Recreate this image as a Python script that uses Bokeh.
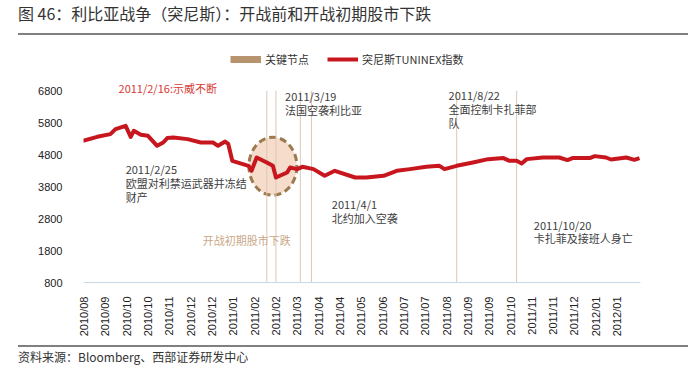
import math
import calendar
from datetime import datetime

from bokeh.plotting import figure
from bokeh.models import (Range1d, FixedTicker, DatetimeTickFormatter, Label,
                          Legend, LegendItem, Div)
from bokeh.layouts import column
from bokeh.embed import file_html
from bokeh.resources import INLINE

# ---------------- data ----------------
dates = ["2010-08-19", "2010-09-02", "2010-09-15", "2010-09-20", "2010-09-30",
         "2010-10-05", "2010-10-08", "2010-10-15", "2010-10-22", "2010-10-31",
         "2010-11-06", "2010-11-10", "2010-11-16", "2010-11-30", "2010-12-13",
         "2010-12-25", "2010-12-30", "2011-01-06", "2011-01-09", "2011-01-13",
         "2011-01-29", "2011-02-01", "2011-02-06", "2011-02-16", "2011-02-22",
         "2011-02-25", "2011-03-08", "2011-03-11", "2011-03-18", "2011-03-23",
         "2011-04-03", "2011-04-14", "2011-04-24", "2011-05-14", "2011-05-25",
         "2011-06-11", "2011-06-24", "2011-07-07", "2011-07-23", "2011-08-05",
         "2011-08-10", "2011-08-22", "2011-09-07", "2011-09-22", "2011-10-07",
         "2011-10-13", "2011-10-20", "2011-10-25", "2011-10-30", "2011-11-15",
         "2011-12-01", "2011-12-09", "2011-12-14", "2011-12-31", "2012-01-05",
         "2012-01-16", "2012-01-21", "2012-02-05", "2012-02-13", "2012-02-18"]
tuninex = [5235, 5360, 5445, 5600, 5705,
           5360, 5548, 5423, 5392, 5079,
           5182, 5320, 5339, 5288, 5182,
           5182, 5079, 5213, 5141, 4609,
           4453, 4296, 4713, 4556, 4453,
           4087, 4243, 4400, 4349, 4421,
           4349, 4140, 4296, 4087, 4087,
           4140, 4296, 4349, 4421, 4453,
           4349, 4453, 4556, 4662, 4694,
           4609, 4609, 4525, 4662, 4713,
           4713, 4631, 4694, 4694, 4756,
           4713, 4650, 4713, 4640, 4694]

key_dates = ["2011-02-16", "2011-02-25", "2011-03-21", "2011-04-01",
             "2011-08-22", "2011-10-20"]

highlight_date = ["2011-02-22"]
highlight_value = [4440]

tick_dates = ["2010-08-20", "2010-09-10", "2010-10-01", "2010-10-22",
              "2010-11-12", "2010-12-03", "2010-12-24", "2011-01-14",
              "2011-02-04", "2011-02-25", "2011-03-18", "2011-04-08",
              "2011-04-29", "2011-05-20", "2011-06-10", "2011-07-01",
              "2011-07-22", "2011-08-12", "2011-09-02", "2011-09-23",
              "2011-10-14", "2011-11-04", "2011-11-25", "2011-12-16",
              "2012-01-06", "2012-01-27"]
tick_labels = ["2010/08", "2010/09", "2010/10", "2010/10", "2010/11", "2010/12",
               "2010/12", "2011/01", "2011/02", "2011/02", "2011/03", "2011/04",
               "2011/04", "2011/05", "2011/06", "2011/07", "2011/07", "2011/08",
               "2011/09", "2011/09", "2011/10", "2011/11", "2011/11", "2011/12",
               "2012/01", "2012/01"]
y_ticks = [800, 1800, 2800, 3800, 4800, 5800, 6800]

title_text = "图 46：利比亚战争（突尼斯）：开战前和开战初期股市下跌"
source_text = "资料来源：Bloomberg、西部证券研发中心"
legend_labels = ["关键节点", "突尼斯TUNINEX指数"]


def d(s):
    return datetime.strptime(s, "%Y-%m-%d")


def ms(s):
    return calendar.timegm(d(s).timetuple()) * 1000.0


RED = "#c8161e"
TAN = "#b8946e"
VLINE = "#dcc8b6"
TEXT = "#404040"
CJK = "Noto Sans CJK SC"

# ---------------- figure ----------------
# y range extends above the top tick so the legend and the top note sit in the frame
p = figure(width=688, height=302, x_axis_type="datetime",
           x_range=Range1d(datetime(2010, 8, 19, 12), datetime(2012, 2, 19)),
           y_range=Range1d(800, 8000),
           output_backend="svg", toolbar_location=None,
           min_border_left=83, min_border_right=48,
           min_border_top=12, min_border_bottom=60)
p.outline_line_color = None
p.grid.visible = False
p.background_fill_color = "white"
p.border_fill_color = "white"

# highlight ellipse
p.ellipse(x=[d(s) for s in highlight_date], y=highlight_value,
          width=48, height=58, width_units="screen", height_units="screen",
          fill_color="#f5dccb", line_color="#9c7a4f", line_width=3,
          line_dash="7 4")

# key date lines
kd = [d(s) for s in key_dates]
p.segment(x0=kd, y0=[y_ticks[0]] * len(kd), x1=kd, y1=[y_ticks[-1]] * len(kd),
          line_color=VLINE, line_width=1)

# legend proxy for the key dates: a single-point line draws nothing on the plot
key_r = p.line(x=kd[:1], y=y_ticks[-1:], line_color=TAN, line_width=7)
main_r = p.line(x=[d(s) for s in dates], y=tuninex, line_color=RED,
                line_width=4, line_join="round")

# axes
xticks = [ms(s) for s in tick_dates]
p.xaxis.ticker = FixedTicker(ticks=xticks)
fmt = "%Y/%m"
p.xaxis.formatter = DatetimeTickFormatter(
    milliseconds=fmt, seconds=fmt, minsec=fmt, minutes=fmt, hourmin=fmt,
    hours=fmt, days=fmt, months=fmt, years=fmt)
p.xaxis.major_label_overrides = {t: l for t, l in zip(xticks, tick_labels)}
p.xaxis.major_label_orientation = math.pi / 2
p.xaxis.axis_line_color = "#c9d7e6"
p.xaxis.axis_line_width = 1
p.xaxis.major_tick_line_color = None
p.xaxis.minor_tick_line_color = None
p.xaxis.major_label_standoff = 8
p.xaxis.major_label_text_font = "Liberation Sans"
p.xaxis.major_label_text_font_size = "11px"
p.xaxis.major_label_text_color = "#222222"

p.yaxis.ticker = FixedTicker(ticks=y_ticks)
p.yaxis.axis_line_color = None
p.yaxis.major_tick_line_color = None
p.yaxis.minor_tick_line_color = None
p.yaxis.major_label_standoff = 15
p.yaxis.major_label_text_font = "Liberation Sans"
p.yaxis.major_label_text_font_size = "11px"
p.yaxis.major_label_text_color = "#222222"

# legend
legend = Legend(items=[LegendItem(label=legend_labels[0], renderers=[key_r]),
                       LegendItem(label=legend_labels[1], renderers=[main_r])],
                orientation="horizontal", location=(147, 215),
                label_text_font=CJK, label_text_font_size="11px",
                label_text_color="#333333",
                glyph_width=31, glyph_height=12, label_height=14,
                label_standoff=4, spacing=18, padding=0, margin=0,
                border_line_color=None, background_fill_alpha=0)
p.add_layout(legend)


# annotations
def note(x, y, text, color=TEXT):
    p.add_layout(Label(x=d(x), y=y, text=text, text_font=CJK,
                       text_font_size="11px", text_color=color,
                       text_baseline="middle", text_align="left"))


note("2010-09-23", 6894, "2011/2/16:示威不断", color="#d63a33")
note("2010-09-30", 4359, "2011/2/25")
note("2010-09-30", 3921, "欧盟对利禁运武器并冻结")
note("2010-09-30", 3483, "财产")
note("2011-03-06", 6644, "2011/3/19")
note("2011-03-06", 6206, "法国空袭利比亚")
note("2011-04-21", 3263, "2011/4/1")
note("2011-04-21", 2825, "北约加入空袭")
note("2011-08-14", 6675, "2011/8/22")
note("2011-08-14", 6237, "全面控制卡扎菲部")
note("2011-08-14", 5798, "队")
note("2011-11-06", 2606, "2011/10/20")
note("2011-11-06", 2199, "卡扎菲及接班人身亡")
note("2010-12-15", 2136, "开战初期股市下跌", color="#c9a98a")

title_div = Div(
    text=('<div style="margin:4px 0 0 18px;width:670px;height:31px;'
          'border-bottom:2px solid #808080;font-family:\'Noto Sans CJK SC\';'
          'font-size:16px;line-height:18px;color:#333;white-space:nowrap;">'
          + title_text + '</div>'),
    width=688, height=40, margin=(0, 0, 0, 0))

source_div = Div(
    text=('<div style="margin:3px 0 0 18px;width:670px;'
          'border-top:2px solid #808080;padding-top:3px;'
          'font-family:\'Noto Sans CJK SC\';font-size:12px;'
          'line-height:14px;color:#333;white-space:nowrap;">'
          + source_text + '</div>'),
    width=688, height=36, margin=(0, 0, 0, 0))

layout = column(title_div, p, source_div, spacing=0)

open("out.html", "w").write(file_html(layout, INLINE))
